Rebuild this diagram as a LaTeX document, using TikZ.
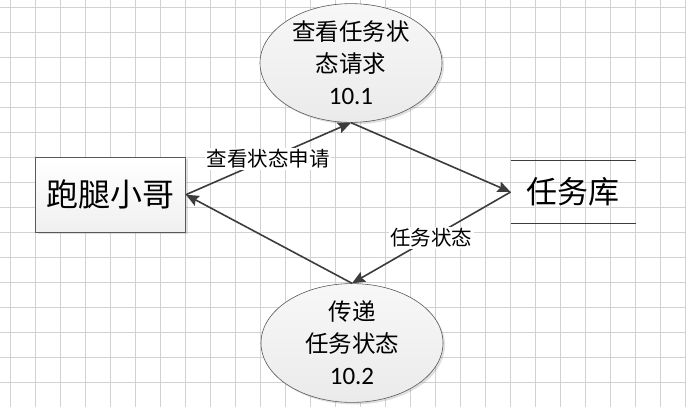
\documentclass[tikz,border=0pt]{standalone}
\usepackage{fontspec}
\newfontfamily\cjk{Noto Sans CJK SC}
\newfontfamily\numfont{Carlito}
\usetikzlibrary{shapes.geometric,arrows.meta,shadows}
\definecolor{linegray}{HTML}{3C3C3C}
\definecolor{gridgray}{HTML}{D2D2D2}
\begin{document}
\begin{tikzpicture}[x=1pt,y=-1pt,
  gridline/.style={draw=gridgray, line width=0.7pt},
  process/.style={ellipse, draw=gray!70!black, line width=0.6pt,
    minimum width=182pt, minimum height=100pt, inner sep=0pt,
    top color=gray!6, bottom color=gray!16,
    drop shadow={shadow xshift=2pt, shadow yshift=-2pt, opacity=0.25},
    align=center, font=\cjk\fontsize{23.5}{32}\selectfont},
  entity/.style={rectangle, draw=gray!70!black, line width=0.7pt,
    minimum width=150pt, minimum height=75pt, inner sep=0pt,
    top color=white, bottom color=gray!12,
    drop shadow={shadow xshift=2pt, shadow yshift=-2pt, opacity=0.25},
    font=\cjk\fontsize{32}{36}\selectfont},
  storebox/.style={rectangle, minimum width=125pt, minimum height=62pt,
    inner sep=0pt, font=\cjk\fontsize{31}{35}\selectfont},
  flow/.style={draw=linegray, line width=1.6pt,
    -{Stealth[length=13pt, width=11pt, inset=2pt]}},
  flowlabel/.style={fill=white, inner sep=1.5pt,
    font=\cjk\fontsize{20.5}{24}\selectfont, text=black}
]
% canvas and background grid
\useasboundingbox (0,0) rectangle (686,407);
\fill[white] (0,0) rectangle (686,407);
\foreach \gx in {10.5,35.5,...,686} \draw[gridline] (\gx,0) -- (\gx,407);
\foreach \gy in {7.3,32.3,...,407} \draw[gridline] (0,\gy) -- (686,\gy);

% processes, external entity and data store
\node[process] (p1) at (351,63) {查看任务状\\态请求\\{\numfont\fontsize{25}{32}\selectfont 10.1}};
\node[process] (p2) at (352,343) {传递\\任务状态\\{\numfont\fontsize{25}{32}\selectfont 10.2}};
\node[entity] (runner) at (110.5,194.7) {跑腿小哥};
\node[storebox] (store) at (573.3,192) {任务库};
\draw[draw=linegray, line width=0.8pt] (store.north west) -- (store.north east);
\draw[draw=linegray, line width=0.8pt] (store.south west) -- (store.south east);

% data flows
\draw[flow] (runner.east) -- node[flowlabel] {查看状态申请} (p1.south);
\draw[flow] (p1.south) -- (store.west);
\draw[flow] (store.west) -- node[flowlabel] {任务状态} (p2.north);
\draw[flow] (p2.north) -- (runner.east);
\end{tikzpicture}
\end{document}
